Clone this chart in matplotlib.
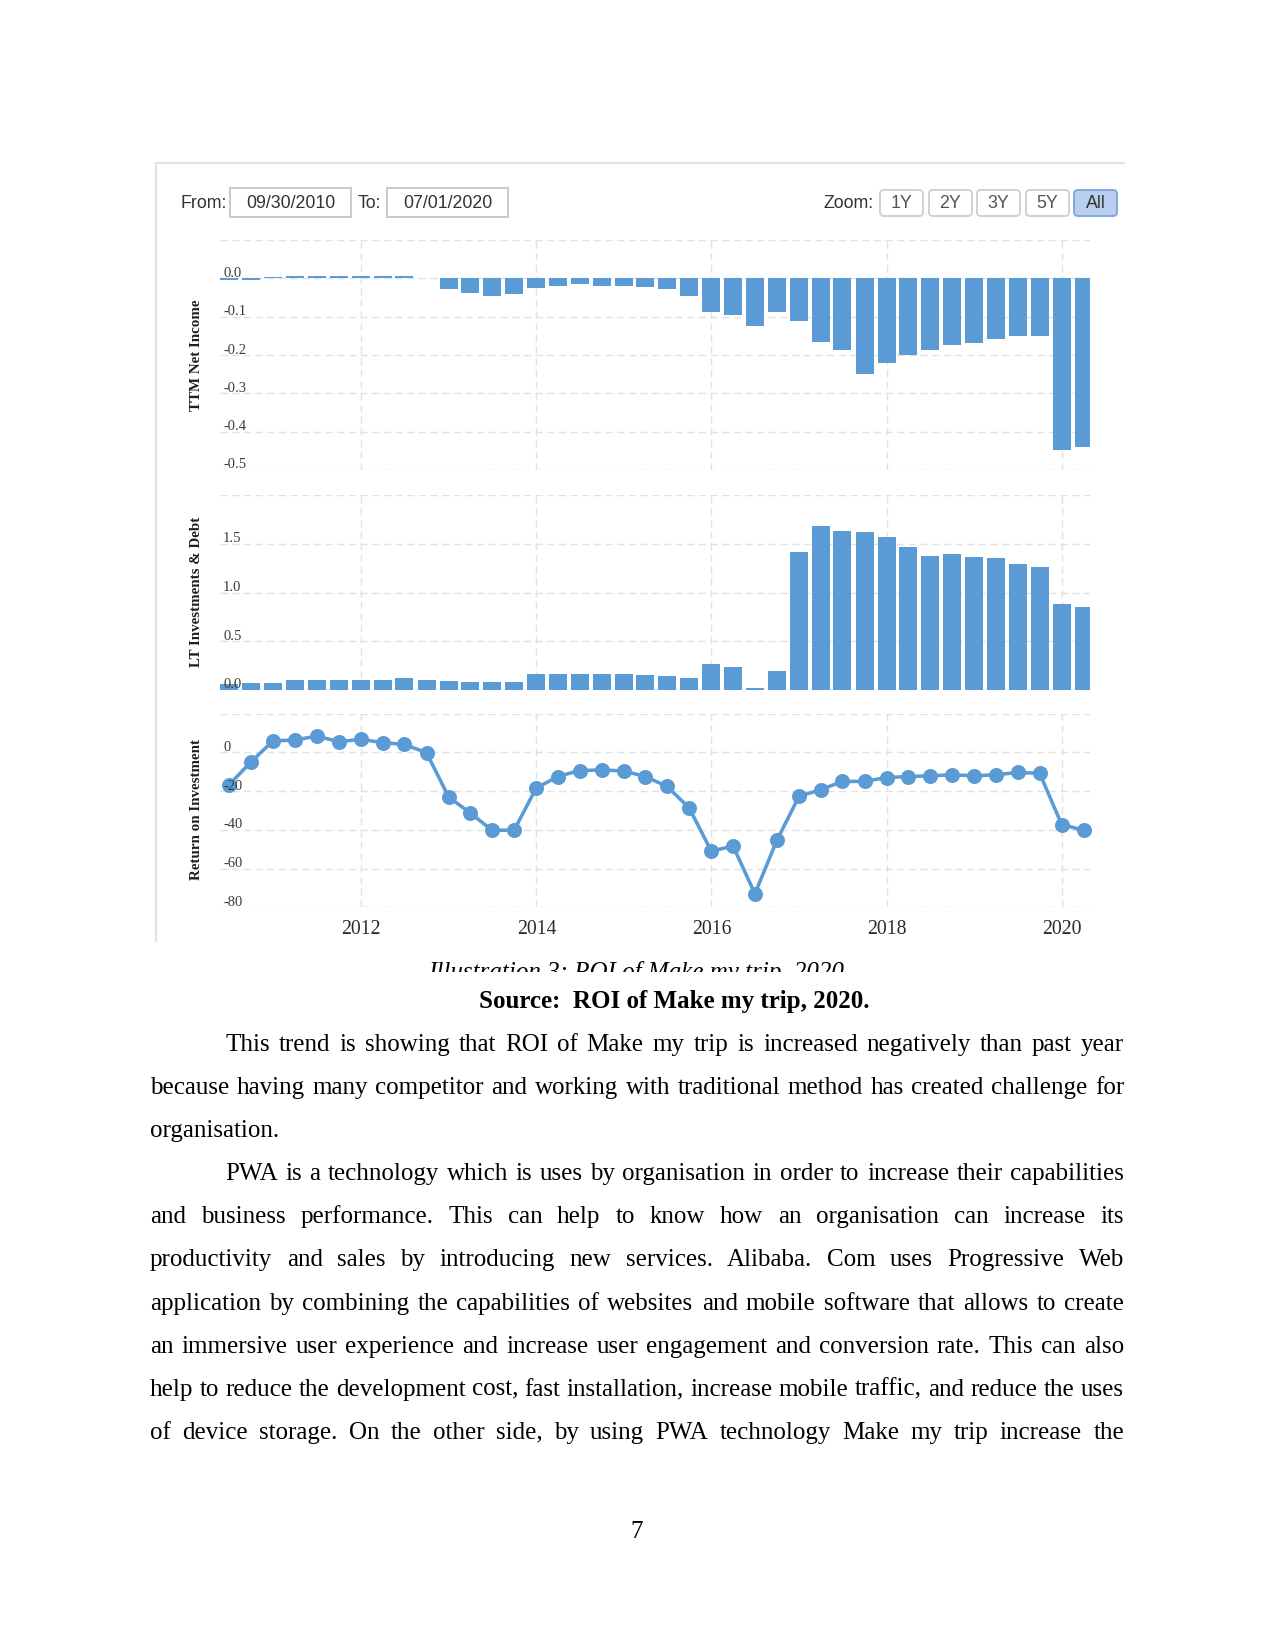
import datetime as dt
import matplotlib
matplotlib.use("Agg")
import matplotlib.pyplot as plt
from matplotlib.patches import Rectangle, FancyBboxPatch
from matplotlib.lines import Line2D
from matplotlib.transforms import Bbox, offset_copy

# ---------------- data ----------------
quarter_ends = [
    "2010-06-30", "2010-09-30", "2010-12-31",
    "2011-03-31", "2011-06-30", "2011-09-30", "2011-12-31",
    "2012-03-31", "2012-06-30", "2012-09-30", "2012-12-31",
    "2013-03-31", "2013-06-30", "2013-09-30", "2013-12-31",
    "2014-03-31", "2014-06-30", "2014-09-30", "2014-12-31",
    "2015-03-31", "2015-06-30", "2015-09-30", "2015-12-31",
    "2016-03-31", "2016-06-30", "2016-09-30", "2016-12-31",
    "2017-03-31", "2017-06-30", "2017-09-30", "2017-12-31",
    "2018-03-31", "2018-06-30", "2018-09-30", "2018-12-31",
    "2019-03-31", "2019-06-30", "2019-09-30", "2019-12-31",
    "2020-03-31",
]
net_income = [-0.004, -0.004, 0.003, 0.007, 0.007, 0.007, 0.007, 0.007, 0.006, 0.002,
              -0.029, -0.039, -0.046, -0.042, -0.026, -0.019, -0.016, -0.019, -0.019,
              -0.022, -0.029, -0.045, -0.088, -0.096, -0.124, -0.088, -0.111, -0.166,
              -0.188, -0.249, -0.221, -0.200, -0.188, -0.173, -0.170, -0.159, -0.150,
              -0.150, -0.449, -0.440]
lt_investments = [0.065, 0.068, 0.068, 0.10, 0.10, 0.10, 0.10, 0.10, 0.12, 0.10,
                  0.09, 0.08, 0.08, 0.08, 0.16, 0.16, 0.16, 0.16, 0.16, 0.15,
                  0.14, 0.12, 0.27, 0.236, 0.017, 0.195, 1.414, 1.685, 1.634, 1.62,
                  1.568, 1.462, 1.377, 1.394, 1.363, 1.353, 1.291, 1.264, 0.88, 0.856]
roi = [-16.8, -4.8, 6.0, 6.3, 8.4, 5.5, 6.7, 5.0, 4.1, -0.2,
       -23.0, -31.3, -40.2, -40.2, -18.5, -12.5, -9.4, -9.1, -9.6, -12.5,
       -17.6, -28.7, -51.0, -48.4, -73.0, -45.3, -22.7, -19.3, -15.0, -15.0,
       -13.0, -12.5, -12.1, -11.6, -12.1, -11.6, -10.4, -10.8, -37.3, -40.2]

year_ticks = [2012, 2014, 2016, 2018, 2020]
ni_ticks = [0.0, -0.1, -0.2, -0.3, -0.4, -0.5]
ni_labels = ["0.0", "-0.1", "-0.2", "-0.3", "-0.4", "-0.5"]
lt_ticks = [0.0, 0.5, 1.0, 1.5]
lt_labels = ["0.0", "0.5", "1.0", "1.5"]
roi_ticks = [0, -20, -40, -60, -80]
roi_labels = ["0", "-20", "-40", "-60", "-80"]

from_date = "09/30/2010"
to_date = "07/01/2020"
zoom_buttons = ["1Y", "2Y", "3Y", "5Y", "All"]

caption = "Illustration 3: ROI of Make my trip, 2020"
source = "Source:  ROI of Make my trip, 2020."
para1 = [
    "This trend is showing that ROI of Make my trip is increased negatively than past year",
    "because having many competitor and working with traditional method has created challenge for",
    "organisation.",
]
para2 = [
    "PWA is a technology which is uses by organisation in order to increase their capabilities",
    "and business performance. This can help to know how an organisation can increase its",
    "productivity and sales by introducing new services. Alibaba. Com uses Progressive Web",
    "application by combining the capabilities of websites and mobile software that allows to create",
    "an immersive user experience and increase user engagement and conversion rate. This can also",
    "help to reduce the development cost, fast installation, increase mobile traffic, and reduce the uses",
    "of device storage. On the other side, by using PWA technology Make my trip increase the",
]
page_no = "7"

# ---------------- style ----------------
W, H, DPI = 1275, 1650, 150
BLUE = "#5b9bd5"
GRID = "#e2e2e2"
SERIF = "Liberation Serif"
SANS = "Liberation Sans"

fig = plt.figure(figsize=(W / DPI, H / DPI), dpi=DPI)
fig.patch.set_facecolor("white")

# background pixel-coordinate axes for page decorations and text
bg = fig.add_axes([0, 0, 1, 1], zorder=0)
bg.set_xlim(0, W)
bg.set_ylim(H, 0)
bg.axis("off")

# chart frame
bg.add_line(Line2D([156, 1124], [163, 163], color="#e2e2e2", lw=1.0))
bg.add_line(Line2D([156, 156], [163, 941], color="#e2e2e2", lw=1.0))

# header: range selector
hdr_y = 203
bg.text(181, hdr_y, "From:", family=SANS, fontsize=8.5, color="#333333", ha="left", va="center")
bg.add_patch(Rectangle((230, 188), 121, 29, fill=False, ec="#c8c8c8", lw=0.9))
bg.text(290.5, hdr_y, from_date, family=SANS, fontsize=8.5, color="#333333", ha="center", va="center")
bg.text(358, hdr_y, "To:", family=SANS, fontsize=8.5, color="#333333", ha="left", va="center")
bg.add_patch(Rectangle((387, 188), 121, 29, fill=False, ec="#c8c8c8", lw=0.9))
bg.text(447.5, hdr_y, to_date, family=SANS, fontsize=8.5, color="#333333", ha="center", va="center")
bg.text(874, hdr_y + 1, "Zoom:", family=SANS, fontsize=8.5, color="#333333", ha="right", va="center")
btn_x = [880, 929, 977, 1026, 1074]
for bx, lab in zip(btn_x, zoom_buttons):
    active = lab == "All"
    bg.add_patch(FancyBboxPatch((bx, 190), 43, 26, boxstyle="round,pad=0,rounding_size=4",
                                fc="#b9cff0" if active else "white",
                                ec="#7fa5de" if active else "#cfcfcf", lw=0.9))
    bg.text(bx + 21.5, hdr_y + 1, lab, family=SANS, fontsize=8.5,
            color="#333333" if active else "#555555", ha="center", va="center")

# ---------------- chart panels ----------------
dates = [dt.datetime.strptime(s, "%Y-%m-%d") for s in quarter_ends]
xmin, xmax = dt.datetime(2010, 5, 23), dt.datetime(2020, 4, 27)


def panel(top_px, bottom_px, ylo, yhi, ticks, labels):
    ax = fig.add_axes([220 / W, 1 - bottom_px / H, 870 / W, (bottom_px - top_px) / H], zorder=2)
    ax.set_facecolor("none")
    for s in ax.spines.values():
        s.set_visible(False)
    ax.set_xlim(xmin, xmax)
    ax.set_ylim(ylo, yhi)
    ax.set_xticks([dt.datetime(y, 1, 1) for y in year_ticks])
    ax.set_yticks(list(ticks) + [yhi])
    ax.tick_params(length=0, labelleft=False, labelbottom=False)
    ax.grid(True, color=GRID, linestyle=(0, (5, 3)), linewidth=0.7)
    ax.set_axisbelow(True)
    tr = offset_copy(ax.get_yaxis_transform(), fig=fig, x=3, y=1.5, units="dots")
    for t, lab in zip(ticks, labels):
        ax.text(0, t, lab, transform=tr, family=SERIF, fontsize=7, color="#3a3a3a",
                ha="left", va="baseline", zorder=5)
    return ax


ax1 = panel(240, 470, -0.5, 0.1, ni_ticks, ni_labels)
ax1.bar(dates, net_income, width=75, color=BLUE, edgecolor="none", zorder=3)

ax2 = panel(495, 690, 0.0, 2.0, lt_ticks, lt_labels)
ax2.bar(dates, lt_investments, width=75, color=BLUE, edgecolor="none", zorder=3)

ax3 = panel(713.6, 907.3, -80, 20, roi_ticks, roi_labels)
ax3.plot(dates, roi, color=BLUE, lw=1.7, marker="o", markersize=6.2, zorder=3, clip_on=False)
ax3.tick_params(labelbottom=True, pad=6)
ax3.set_xticklabels([str(y) for y in year_ticks], family=SERIF, fontsize=9.5, color="#2a2a2a")

# axis titles
for ycen, title in [(355, "TTM Net Income"), (592, "LT Investments & Debt"), (809, "Return on Investment")]:
    bg.text(197, ycen, title, rotation=90, ha="center", va="center", family=SERIF,
            fontsize=7.2, fontweight="bold", color="#1e1e1e")

# ---------------- page text ----------------
cap = bg.text(636, 979, caption, family=SERIF, fontsize=12, style="italic",
              ha="center", va="baseline", color="black")
cap.set_clip_box(Bbox.from_extents(0, H - 972, W, H))
cap.set_clip_on(True)

bg.text(674, 1008, source, family=SERIF, fontsize=12, fontweight="bold",
        ha="center", va="baseline", color="black")

renderer = fig.canvas.get_renderer()


def place_line(line, x0, x1, y, justify=True):
    words = line.split(" ")
    texts = [bg.text(0, y, w, family=SERIF, fontsize=12, ha="left", va="baseline", color="black")
             for w in words]
    widths = [t.get_window_extent(renderer).width for t in texts]
    if justify and len(words) > 1:
        gap = (x1 - x0 - sum(widths)) / (len(words) - 1)
    else:
        gap = 6.25
    x = x0
    for t, w in zip(texts, widths):
        t.set_x(x)
        x += w + gap


LEFT, RIGHT, INDENT, LS = 150, 1124, 225, 43.1
y = 1051
for i, line in enumerate(para1):
    place_line(line, INDENT if i == 0 else LEFT, RIGHT, y, justify=(i < len(para1) - 1))
    y += LS
for i, line in enumerate(para2):
    place_line(line, INDENT if i == 0 else LEFT, RIGHT, y, justify=True)
    y += LS

bg.text(637, 1538, page_no, family=SERIF, fontsize=12, ha="center", va="baseline", color="black")

fig.savefig("out.png", dpi=DPI, facecolor="white")
